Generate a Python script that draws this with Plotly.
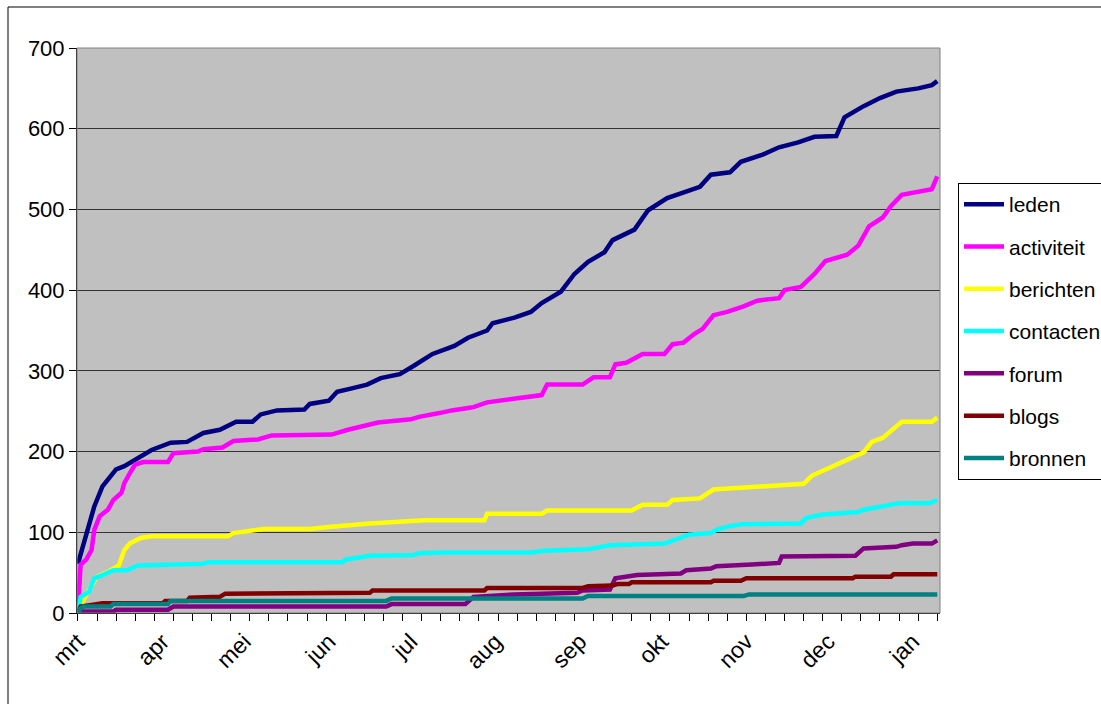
import pandas as pd
import plotly.graph_objects as go

# Day offsets are counted from 1 March; each series has its own sample days.
START = pd.Timestamp("2008-03-01")

month_labels = ["mrt", "apr", "mei", "jun", "jul", "aug", "sep", "okt", "nov", "dec", "jan"]
month_starts = pd.date_range("2008-03-01", periods=11, freq="MS")

leden_days = [0, 2, 6, 9, 14, 17, 22, 27, 34, 40, 46, 52, 58, 64, 67, 73, 83, 85, 92, 95,
              100, 106, 111, 118, 123, 130, 138, 143, 150, 152, 160, 166, 170, 177, 182, 187,
              193, 196, 204, 209, 216, 223, 228, 232, 239, 243, 251, 257, 264, 270, 278, 281,
              288, 294, 300, 308, 313, 315]
leden = [61, 86, 132, 157, 178, 182, 192, 202, 211, 212, 223, 227, 237, 237, 246, 251, 252, 259,
         263, 274, 278, 283, 291, 296, 306, 321, 331, 341, 350, 359, 366, 373, 384, 398, 420, 435,
         447, 462, 475, 499, 514, 522, 528, 543, 546, 559, 568, 577, 583, 590, 591, 614, 628, 638,
         646, 650, 654, 659]

activiteit_days = [0, 1, 3, 5, 6, 8, 11, 13, 16, 17, 19, 21, 24, 33, 35, 44, 46, 53, 57, 66,
                   71, 85, 93, 99, 106, 110, 122, 125, 133, 137, 143, 145, 150, 160, 170, 172,
                   185, 189, 195, 197, 201, 207, 215, 218, 222, 226, 229, 233, 238, 244, 249,
                   257, 259, 265, 270, 274, 282, 286, 290, 295, 298, 302, 308, 313, 315]
activiteit = [3, 60, 66, 78, 103, 120, 128, 140, 149, 161, 173, 184, 187, 187, 198, 200, 203, 205,
              213, 215, 220, 220, 221, 227, 232, 236, 240, 243, 248, 251, 254, 255, 261, 265, 270,
              283, 283, 292, 292, 308, 310, 321, 321, 333, 335, 346, 352, 369, 373, 380, 387, 390,
              400, 404, 420, 436, 444, 455, 479, 490, 504, 518, 522, 525, 541]

berichten_days = [0, 2, 5, 7, 11, 15, 17, 19, 23, 27, 55, 57, 68, 85, 93, 107, 127, 149, 150,
                  170, 172, 203, 207, 216, 218, 228, 233, 243, 251, 266, 269, 275, 280, 288,
                  291, 295, 302, 313, 315]
berichten = [0, 16, 34, 45, 51, 59, 78, 86, 93, 95, 95, 99, 104, 104, 107, 111, 115, 115, 123,
             123, 127, 127, 134, 134, 140, 142, 153, 155, 157, 160, 170, 179, 188, 199, 212, 217,
             237, 237, 242]

contacten_days = [0, 1, 4, 6, 9, 13, 18, 22, 46, 48, 97, 98, 107, 123, 125, 134, 166, 171, 187,
                  195, 215, 218, 224, 232, 234, 238, 243, 265, 267, 273, 286, 288, 295, 301, 312,
                  315]
contacten = [0, 20, 26, 43, 47, 53, 53, 59, 61, 63, 63, 66, 71, 72, 74, 75, 75, 77, 79, 84, 86,
             90, 97, 99, 103, 107, 110, 111, 118, 122, 125, 128, 132, 136, 136, 140]

forum_days = [0, 2, 13, 14, 33, 35, 113, 115, 142, 145, 160, 183, 185, 195, 197, 205, 221, 223,
              232, 234, 247, 257, 258, 285, 288, 300, 302, 306, 313, 315]
forum = [0, 2, 2, 4, 4, 8, 8, 11, 11, 20, 23, 25, 28, 29, 43, 47, 49, 53, 55, 58, 60, 62, 70, 71,
         80, 82, 84, 86, 86, 90]

blogs_days = [0, 1, 5, 9, 31, 32, 40, 41, 52, 54, 107, 108, 149, 150, 185, 187, 196, 198, 202,
              203, 232, 233, 243, 245, 284, 285, 298, 299, 315]
blogs = [0, 8, 10, 12, 12, 15, 15, 19, 20, 24, 25, 28, 28, 31, 31, 33, 34, 36, 36, 38, 38, 40,
         40, 43, 43, 45, 45, 48, 48]

bronnen_days = [0, 1, 2, 12, 13, 33, 34, 113, 115, 185, 187, 244, 246, 315]
bronnen = [0, 6, 8, 8, 11, 11, 15, 15, 18, 18, 21, 21, 23, 23]

series = [
    ("leden", leden_days, leden, "#000080"),
    ("activiteit", activiteit_days, activiteit, "#FF00FF"),
    ("berichten", berichten_days, berichten, "#FFFF00"),
    ("contacten", contacten_days, contacten, "#00FFFF"),
    ("forum", forum_days, forum, "#800080"),
    ("blogs", blogs_days, blogs, "#800000"),
    ("bronnen", bronnen_days, bronnen, "#008080"),
]


def to_dates(days):
    return START + pd.to_timedelta(days, unit="D")


FONT = "Arial, Liberation Sans, sans-serif"

fig = go.Figure()
for name, days, values, color in series:
    fig.add_trace(go.Scatter(
        x=to_dates(days), y=values, name=name, mode="lines",
        legendgroup=name,
        line=dict(color=color, width=4.5),
    ))

# pixel geometry of the plot area
L, R, T, B = 77, 940, 48, 613
W, H = 1101, 704
pw, ph = R - L, B - T


def px_x(x):
    return (x - L) / pw


def px_y(y):
    return (B - y) / ph


fig.update_layout(
    width=W, height=H,
    margin=dict(l=L, r=W - R, t=T, b=H - B, autoexpand=False),
    paper_bgcolor="white",
    plot_bgcolor="#C0C0C0",
    font=dict(family=FONT, size=21, color="black"),
    showlegend=True,
    legend=dict(
        x=px_x(958), y=px_y(183), xanchor="left", yanchor="top",
        bordercolor="black", borderwidth=1, bgcolor="white",
        font=dict(family=FONT, size=21, color="black"),
        tracegroupgap=12, itemwidth=40,
    ),
    shapes=[
        # outer chart frame
        dict(type="rect", xref="paper", yref="paper",
             x0=px_x(8), x1=px_x(1140), y0=px_y(740), y1=px_y(7),
             line=dict(color="black", width=1), layer="below"),
        # plot area frame
        dict(type="rect", xref="paper", yref="paper", x0=0, x1=1, y0=0, y1=1,
             line=dict(color="#808080", width=1), layer="above"),
    ],
)

fig.update_xaxes(
    range=[START - pd.Timedelta(hours=8), START + pd.Timedelta(days=316)],
    tickmode="array", tickvals=month_starts, ticktext=month_labels,
    tickangle=-45, ticks="", showgrid=False, zeroline=False,
    showline=True, linecolor="black", linewidth=1,
    tickfont=dict(family=FONT, size=23),
    ticklabelstandoff=5,
    minor=dict(tickmode="linear", tick0=START, dtick=7 * 86400000,
               ticks="outside", ticklen=7, tickcolor="black", showgrid=False),
)
fig.update_yaxes(
    range=[0, 700], dtick=100, tick0=0,
    ticks="outside", ticklen=7, tickcolor="black",
    showgrid=True, gridcolor="#333333", gridwidth=1,
    zeroline=False, showline=True, linecolor="black", linewidth=1,
    tickfont=dict(family=FONT, size=22),
)

fig.write_html("out.html")
